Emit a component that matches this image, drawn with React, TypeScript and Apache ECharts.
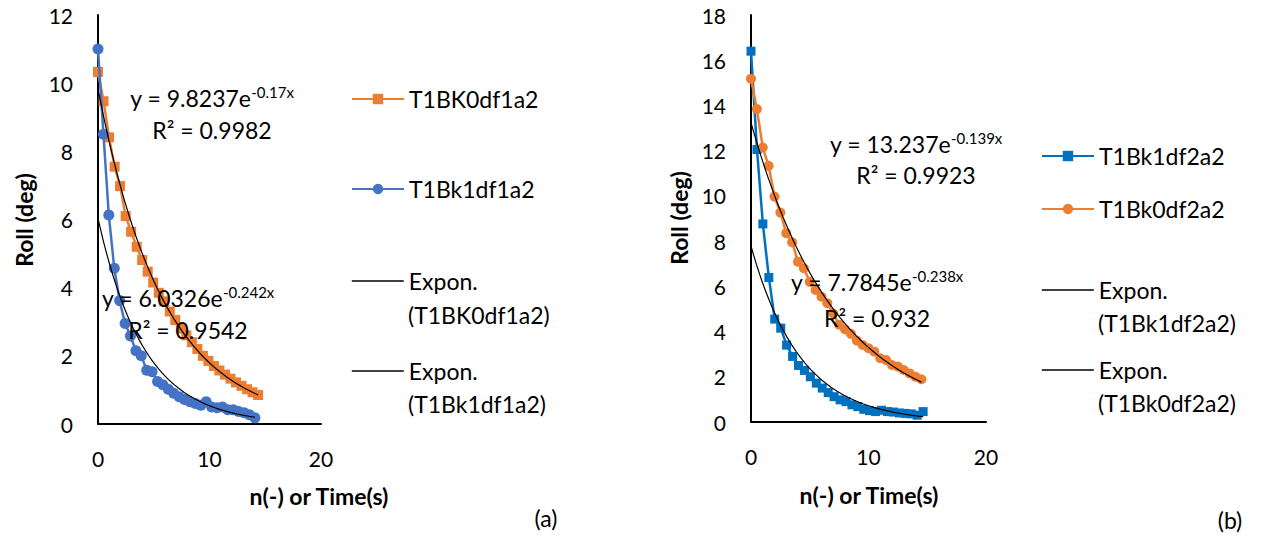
import React, { useEffect, useRef } from "react";
import * as echarts from "echarts";

const FONT = "Lato, 'Noto Sans', sans-serif";
const ORANGE = "#ED7D31";
const BLUE_A = "#4472C4";
const BLUE_B = "#0070C0";

// ---------- Panel (a) ----------
const aOrangeTime = [0, 0.5, 0.99, 1.49, 1.98, 2.48, 2.97, 3.47, 3.96, 4.46, 4.95, 5.45, 5.94, 6.44, 6.93, 7.43, 7.92, 8.42, 8.91, 9.41, 9.9, 10.4, 10.89, 11.39, 11.88, 12.38, 12.87, 13.37, 13.86, 14.36];
const aOrangeRoll = [10.33, 9.47, 8.41, 7.55, 6.98, 6.1, 5.64, 5.2, 4.81, 4.47, 4.15, 3.85, 3.6, 3.3, 3.05, 2.8, 2.6, 2.4, 2.2, 2.0, 1.85, 1.7, 1.57, 1.45, 1.33, 1.22, 1.12, 1.02, 0.93, 0.85];
const aBlueTime = [0, 0.49, 0.97, 1.46, 1.94, 2.43, 2.91, 3.4, 3.88, 4.37, 4.85, 5.34, 5.82, 6.31, 6.79, 7.28, 7.76, 8.25, 8.73, 9.22, 9.7, 10.19, 10.67, 11.16, 11.64, 12.13, 12.61, 13.1, 13.58, 14.07];
const aBlueRoll = [11.0, 8.5, 6.13, 4.57, 3.62, 2.95, 2.58, 2.15, 2.0, 1.58, 1.53, 1.25, 1.15, 1.02, 0.9, 0.8, 0.72, 0.65, 0.6, 0.55, 0.65, 0.5, 0.48, 0.5, 0.42, 0.42, 0.37, 0.33, 0.27, 0.18];

// ---------- Panel (b) ----------
const bBlueTime = [0, 0.51, 1.01, 1.52, 2.02, 2.53, 3.03, 3.54, 4.04, 4.55, 5.05, 5.56, 6.06, 6.57, 7.07, 7.58, 8.08, 8.59, 9.09, 9.6, 10.1, 10.61, 11.11, 11.62, 12.12, 12.63, 13.13, 13.64, 14.14, 14.65];
const bBlueRoll = [16.4, 12.05, 8.76, 6.39, 4.55, 4.15, 3.4, 2.9, 2.5, 2.28, 2.0, 1.72, 1.5, 1.3, 1.12, 0.98, 0.9, 0.76, 0.68, 0.56, 0.5, 0.46, 0.52, 0.46, 0.44, 0.4, 0.38, 0.36, 0.3, 0.46];
const bOrangeTime = [0, 0.5, 1, 1.5, 2, 2.5, 3, 3.5, 4, 4.5, 5, 5.5, 6, 6.5, 7, 7.5, 8, 8.5, 9, 9.5, 10, 10.5, 11, 11.5, 12, 12.5, 13, 13.5, 14, 14.5];
const bOrangeRoll = [15.18, 13.84, 12.14, 11.33, 9.97, 9.26, 8.35, 7.95, 7.09, 6.8, 6.2, 5.84, 5.54, 5.25, 4.8, 4.3, 4.1, 3.9, 3.6, 3.41, 3.26, 3.11, 2.82, 2.74, 2.52, 2.45, 2.3, 2.15, 2.0, 1.89];

// Exponential trendline coefficients as printed on the chart: y = A e^(B x)
const trendAOrange = [9.8237, -0.17];
const trendABlue = [6.0326, -0.242];
const trendBBlue = [7.7845, -0.238];
const trendBOrange = [13.237, -0.139];

const eqTexts = ["y = 9.8237e", "y = 6.0326e", "y = 13.237e", "y = 7.7845e"];
const eqExps = ["-0.17x", "-0.242x", "-0.139x", "-0.238x"];
const r2Texts = ["R² = 0.9982", "R² = 0.9542", "R² = 0.9923", "R² = 0.932"];

const xRange = [0, 20, 10];
const yRangeA = [0, 12, 2];
const yRangeB = [0, 18, 2];

const zip = (xs: number[], ys: number[]) => xs.map((x, i) => [x, ys[i]]);
const trend = (c: number[], xEnd: number) => {
  const pts: number[][] = [];
  const n = 80;
  for (let i = 0; i <= n; i++) {
    const x = (xEnd * i) / n;
    pts.push([x, c[0] * Math.exp(c[1] * x)]);
  }
  return pts;
};

const LH = 33;

export default function App() {
  const ref = useRef<HTMLDivElement>(null);
  useEffect(() => {
    if (!ref.current) return;
    const chart = echarts.init(ref.current, undefined, { renderer: "svg" });

    const axisLabel = { fontSize: 21, fontFamily: FONT, color: "#000" };
    const axisLine = { show: true, onZero: false, lineStyle: { color: "#000", width: 2 } };
    const mkX = (gi: number) => ({
      gridIndex: gi, type: "value", min: xRange[0], max: xRange[1], interval: xRange[2],
      axisLine, axisTick: { show: false }, splitLine: { show: false },
      axisLabel: { ...axisLabel, margin: 24 },
    });
    const mkY = (gi: number, r: number[]) => ({
      gridIndex: gi, type: "value", min: r[0], max: r[1], interval: r[2],
      axisLine, axisTick: { show: false }, splitLine: { show: false },
      axisLabel: { ...axisLabel, margin: 25 },
    });

    const dataSeries = (name: string, xi: number, d: number[][], color: string, symbol: string, size: number, z: number) => ({
      name, type: "line", xAxisIndex: xi, yAxisIndex: xi, data: d,
      symbol, symbolSize: size, showAllSymbol: true,
      itemStyle: { color }, lineStyle: { color, width: 2.5 }, z,
    });
    const trendSeries = (name: string, xi: number, d: number[][]) => ({
      name, type: "line", xAxisIndex: xi, yAxisIndex: xi, data: d,
      symbol: "none", lineStyle: { color: "#000", width: 1.2 }, itemStyle: { color: "#000" }, z: 10,
    });

    const legendBase = {
      orient: "vertical", padding: 0, itemGap: 0, selectedMode: false,
      itemWidth: 52, itemHeight: 13,
      textStyle: { fontSize: 23, fontFamily: FONT, color: "#000", lineHeight: LH },
    };
    const leg1 = (name: string, left: number, cy: number) => ({
      ...legendBase, left, top: cy - LH / 2, data: [name],
    });
    const leg2 = (name: string, left: number, cy: number) => ({
      ...legendBase, left, top: cy - LH / 2, data: [name],
      formatter: "Expon.",
      itemStyle: { color: "rgba(0,0,0,0)", opacity: 0, borderWidth: 0 },
      lineStyle: { color: "#000", width: 1.6, opacity: 1 },
    });

    const txt = (text: string, x: number, y: number, opts: any = {}) => ({
      type: "text", x, y, z: 100,
      style: { text, fontSize: 23, fontFamily: FONT, fill: "#000", align: "center", verticalAlign: "middle", ...opts },
    });
    const eq = (i: number, x: number, y: number) => ({
      type: "text", x, y, z: 100,
      style: {
        text: `{n|${eqTexts[i]}}{s|${eqExps[i]}}`,
        align: "center", verticalAlign: "middle",
        rich: {
          n: { fontSize: 23, fontFamily: FONT, fill: "#000", lineHeight: 28 },
          s: { fontSize: 15, fontFamily: FONT, fill: "#000", lineHeight: 28, verticalAlign: "top", padding: [0, 0, 10, 0] },
        },
      },
    });

    chart.setOption({
      animation: false,
      backgroundColor: "#fff",
      grid: [
        { left: 98, top: 15, width: 223, height: 409 },
        { left: 751, top: 15, width: 235, height: 407 },
      ],
      xAxis: [mkX(0), mkX(1)],
      yAxis: [mkY(0, yRangeA), mkY(1, yRangeB)],
      legend: [
        leg1("T1BK0df1a2", 351, 99),
        leg1("T1Bk1df1a2", 351, 189),
        leg2("Expon. (T1BK0df1a2)", 351, 281),
        leg2("Expon. (T1Bk1df1a2)", 351, 371),
        leg1("T1Bk1df2a2", 1041, 156),
        leg1("T1Bk0df2a2", 1041, 209),
        leg2("Expon. (T1Bk1df2a2)", 1041, 290),
        leg2("Expon. (T1Bk0df2a2)", 1041, 370),
      ],
      series: [
        dataSeries("T1BK0df1a2", 0, zip(aOrangeTime, aOrangeRoll), ORANGE, "rect", 10, 2),
        dataSeries("T1Bk1df1a2", 0, zip(aBlueTime, aBlueRoll), BLUE_A, "circle", 11, 3),
        trendSeries("Expon. (T1BK0df1a2)", 0, trend(trendAOrange, aOrangeTime[aOrangeTime.length - 1])),
        trendSeries("Expon. (T1Bk1df1a2)", 0, trend(trendABlue, aBlueTime[aBlueTime.length - 1])),
        dataSeries("T1Bk1df2a2", 1, zip(bBlueTime, bBlueRoll), BLUE_B, "rect", 9, 2),
        dataSeries("T1Bk0df2a2", 1, zip(bOrangeTime, bOrangeRoll), ORANGE, "circle", 10, 3),
        trendSeries("Expon. (T1Bk1df2a2)", 1, trend(trendBBlue, bBlueTime[bBlueTime.length - 1])),
        trendSeries("Expon. (T1Bk0df2a2)", 1, trend(trendBOrange, bOrangeTime[bOrangeTime.length - 1])),
      ],
      graphic: [
        eq(0, 212, 98), txt(r2Texts[0], 212, 130),
        eq(1, 188, 298), txt(r2Texts[1], 188, 330),
        eq(2, 916, 144), txt(r2Texts[2], 916, 175),
        eq(3, 877, 282), txt(r2Texts[3], 877, 318),
        txt("Roll (deg)", 24, 220, { fontWeight: "bold", fontSize: 23 }),
        txt("Roll (deg)", 679, 218, { fontWeight: "bold", fontSize: 23 }),
        txt("n(-) or Time(s)", 319, 496, { fontWeight: "bold", fontSize: 23 }),
        txt("n(-) or Time(s)", 869, 495, { fontWeight: "bold", fontSize: 23 }),
        txt("(a)", 546, 518),
        txt("(b)", 1230, 520),
        txt("(T1BK0df1a2)", 408, 315, { align: "left" }),
        txt("(T1Bk1df1a2)", 408, 404, { align: "left" }),
        txt("(T1Bk1df2a2)", 1098, 323, { align: "left" }),
        txt("(T1Bk0df2a2)", 1098, 403, { align: "left" }),
      ].map((g: any, i: number) =>
        (i === 8 || i === 9) ? { ...g, rotation: Math.PI / 2 } : g
      ),
    });
    return () => chart.dispose();
  }, []);

  return (
    <div
      ref={ref}
      style={{ position: "fixed", left: 0, top: 0, width: 1270, height: 537, background: "#fff" }}
    />
  );
}
